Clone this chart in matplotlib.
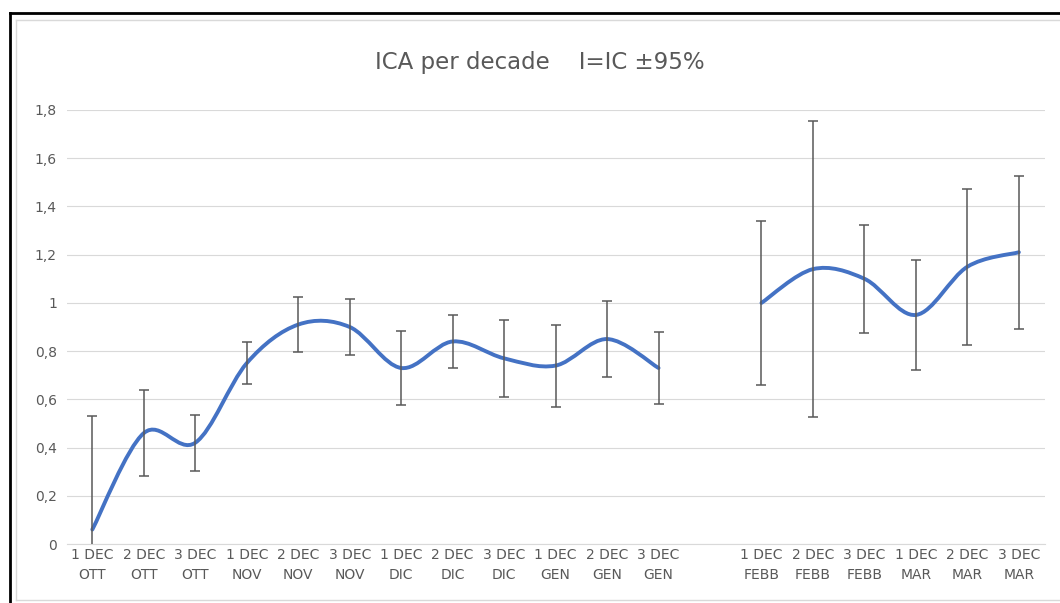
import numpy as np
import matplotlib
matplotlib.use("Agg")
import matplotlib.pyplot as plt
from matplotlib.path import Path
from matplotlib.patches import PathPatch
from matplotlib.lines import Line2D

categories = ["1 DEC\nOTT", "2 DEC\nOTT", "3 DEC\nOTT",
              "1 DEC\nNOV", "2 DEC\nNOV", "3 DEC\nNOV",
              "1 DEC\nDIC", "2 DEC\nDIC", "3 DEC\nDIC",
              "1 DEC\nGEN", "2 DEC\nGEN", "3 DEC\nGEN",
              "",
              "1 DEC\nFEBB", "2 DEC\nFEBB", "3 DEC\nFEBB",
              "1 DEC\nMAR", "2 DEC\nMAR", "3 DEC\nMAR"]
ica_values = [0.06, 0.46, 0.42, 0.75, 0.91, 0.90, 0.73, 0.84, 0.77, 0.74, 0.85, 0.73,
              np.nan,
              1.00, 1.14, 1.10, 0.95, 1.15, 1.21]
ci95 = [0.47, 0.18, 0.117, 0.088, 0.113, 0.116, 0.153, 0.11, 0.16, 0.17, 0.156, 0.148,
        np.nan,
        0.34, 0.615, 0.224, 0.227, 0.324, 0.318]
y_ticks = [0, 0.2, 0.4, 0.6, 0.8, 1.0, 1.2, 1.4, 1.6, 1.8]
title = "ICA per decade    I=IC \u00b195%"

W, H = 1060, 603
fig = plt.figure(figsize=(W / 100, H / 100), dpi=100)
ax = fig.add_axes([66.6 / W, 59 / H, 978 / W, 434 / H])

x = np.arange(len(categories), dtype=float)
y = np.array(ica_values, dtype=float)
e = np.array(ci95, dtype=float)


def smooth_path(xs, ys):
    pts = np.column_stack([xs, ys])
    n = len(pts)
    verts = [pts[0]]
    codes = [Path.MOVETO]
    for i in range(n - 1):
        p0 = pts[i - 1] if i > 0 else pts[i]
        p1 = pts[i]
        p2 = pts[i + 1]
        p3 = pts[i + 2] if i + 2 < n else pts[i + 1]
        c1 = p1 + (p2 - p0) / 6.0
        c2 = p2 - (p3 - p1) / 6.0
        verts += [c1, c2, p2]
        codes += [Path.CURVE4] * 3
    return Path(verts, codes)


# split into continuous segments (gap at NaN)
valid = ~np.isnan(y)
segs = []
cur = []
for i in range(len(y)):
    if valid[i]:
        cur.append(i)
    else:
        if cur:
            segs.append(cur)
        cur = []
if cur:
    segs.append(cur)

for s in segs:
    p = smooth_path(x[s], y[s])
    ax.add_patch(PathPatch(p, fill=False, edgecolor="#4472C4", lw=2.8,
                           capstyle="round", joinstyle="round", zorder=3))

ax.errorbar(x[valid], y[valid], yerr=e[valid], fmt="none", ecolor="#595959",
            elinewidth=1.1, capsize=3.4, capthick=1.1, zorder=4)

ax.set_xlim(-0.5, len(categories) - 0.5)
ax.set_ylim(0, 1.8)
ax.set_xticks(x)
ax.set_xticklabels(categories, linespacing=1.55)
ax.set_yticks(y_ticks)
ax.set_yticklabels([f"{v:g}".replace(".", ",") for v in y_ticks])
ax.tick_params(axis="both", length=0, labelsize=10, labelcolor="#595959")
ax.tick_params(axis="x", pad=3)
ax.tick_params(axis="y", pad=7)
ax.yaxis.grid(True, color="#D9D9D9", lw=0.8)
ax.set_axisbelow(True)
for side in ["top", "right", "left"]:
    ax.spines[side].set_visible(False)
ax.spines["bottom"].set_color("#D9D9D9")
ax.spines["bottom"].set_linewidth(0.8)

fig.text(540 / W, 1 - 62 / H, title, ha="center", va="center",
         fontsize=16.5, color="#595959")

# chart frame
fig.add_artist(Line2D([16 / W, 16 / W], [1 - 600 / H, 1 - 20 / H], transform=fig.transFigure,
                      color="#D9D9D9", lw=1))
fig.add_artist(Line2D([16 / W, 1], [1 - 20 / H, 1 - 20 / H], transform=fig.transFigure,
                      color="#D9D9D9", lw=1))
fig.add_artist(Line2D([16 / W, 1], [1 - 600 / H, 1 - 600 / H], transform=fig.transFigure,
                      color="#D9D9D9", lw=1))
fig.add_artist(Line2D([10 / W, 10 / W], [0, 1 - 13 / H], transform=fig.transFigure,
                      color="black", lw=2))
fig.add_artist(Line2D([10 / W, 1], [1 - 13 / H, 1 - 13 / H], transform=fig.transFigure,
                      color="black", lw=2))

fig.savefig("out.png", dpi=100)
